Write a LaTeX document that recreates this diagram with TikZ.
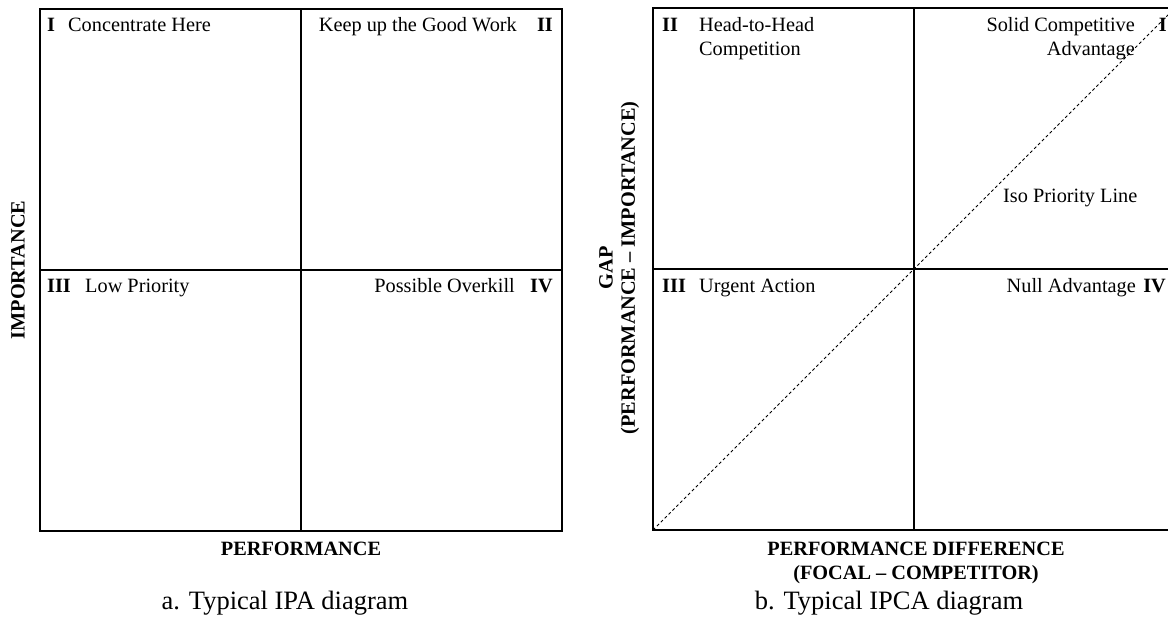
\documentclass[tikz,border=0pt]{standalone}
\usepackage{fontspec}
\setmainfont{Liberation Serif}
\begin{document}
\begin{tikzpicture}[x=1pt,y=-1pt,
  frame/.style={line width=1.3pt, black},
  iso/.style={line width=0.8pt, dash pattern=on 3pt off 2.5pt, black},
  qtext/.style={font=\fontsize{20.3}{24}\selectfont, inner sep=0pt},
  qnum/.style={font=\fontsize{20.3}{24}\selectfont\bfseries, inner sep=0pt},
  axis/.style={font=\fontsize{20.3}{24}\selectfont\bfseries, inner sep=0pt, align=center},
  capt/.style={font=\fontsize{26.5}{30}\selectfont, inner sep=0pt}]
\useasboundingbox (0,0) rectangle (1168,625);
\clip (0,0) rectangle (1168,625);

% ---------- a. IPA ----------
\coordinate (aNW) at (40,9);
\coordinate (aSE) at (562,531);
\coordinate (aN) at (301,9);
\coordinate (aS) at (301,531);
\coordinate (aW) at (40,270);
\coordinate (aE) at (562,270);
\draw[frame] (aNW) rectangle (aSE);
\draw[frame] (aN) -- (aS);
\draw[frame] (aW) -- (aE);

\node[qnum, anchor=base west] (a1n) at (47,31) {I};
\node[qtext, anchor=base west] (a1t) at (68,31) {Concentrate Here};
\node[qnum, anchor=base east] (a2n) at (553,31) {II};
\node[qtext, anchor=base east] (a2t) at (517,31) {Keep up the Good Work};
\node[qnum, anchor=base west] (a3n) at (47,292) {III};
\node[qtext, anchor=base west] (a3t) at (85,292) {Low Priority};
\node[qnum, anchor=base east] (a4n) at (553,292) {IV};
\node[qtext, anchor=base east] (a4t) at (515,292) {Possible Overkill};

\node[axis, rotate=90] (aimp) at (18,270) {IMPORTANCE};
\node[axis, anchor=base] (aperf) at (301,555) {PERFORMANCE};
\node[capt, anchor=base] (acap) at (285,609) {a. Typical IPA diagram};

% ---------- b. IPCA ----------
\coordinate (bNW) at (653,8);
\coordinate (bSE) at (1175,530);
\coordinate (bSW) at (653,530);
\coordinate (bNE) at (1175,8);
\coordinate (bN) at (914,8);
\coordinate (bS) at (914,530);
\coordinate (bW) at (653,269);
\coordinate (bE) at (1175,269);
\draw[frame] (bNW) rectangle (bSE);
\draw[frame] (bN) -- (bS);
\draw[frame] (bW) -- (bE);
\draw[iso] (bSW) -- (bNE);

\node[qnum, anchor=base west] (b2n) at (662,31) {II};
\node[qtext, anchor=base west] (b2t) at (699,31) {Head-to-Head};
\node[qtext, anchor=base west] (b2u) at (699,55) {Competition};
\node[qnum, anchor=base east] (b1n) at (1167,31) {I};
\node[qtext, anchor=base east] (b1t) at (1135,31) {Solid Competitive};
\node[qtext, anchor=base east] (b1u) at (1135,55) {Advantage};
\node[qtext, anchor=base west] (biso) at (1003,202) {Iso Priority Line};
\node[qnum, anchor=base west] (b3n) at (662,292) {III};
\node[qtext, anchor=base west] (b3t) at (699,292) {Urgent Action};
\node[qnum, anchor=base east] (b4n) at (1166,292) {IV};
\node[qtext, anchor=base east] (b4t) at (1136,292) {Null Advantage};

\node[axis, rotate=90] (bgap) at (606,268) {GAP};
\node[axis, rotate=90] (bgap2) at (630,268) {(PERFORMANCE -- IMPORTANCE)};
\node[axis, anchor=base] (bperf) at (916,555) {PERFORMANCE DIFFERENCE};
\node[axis, anchor=base] (bperf2) at (916,579) {(FOCAL -- COMPETITOR)};
\node[capt, anchor=base] (bcap) at (889,609) {b. Typical IPCA diagram};
\end{tikzpicture}
\end{document}
